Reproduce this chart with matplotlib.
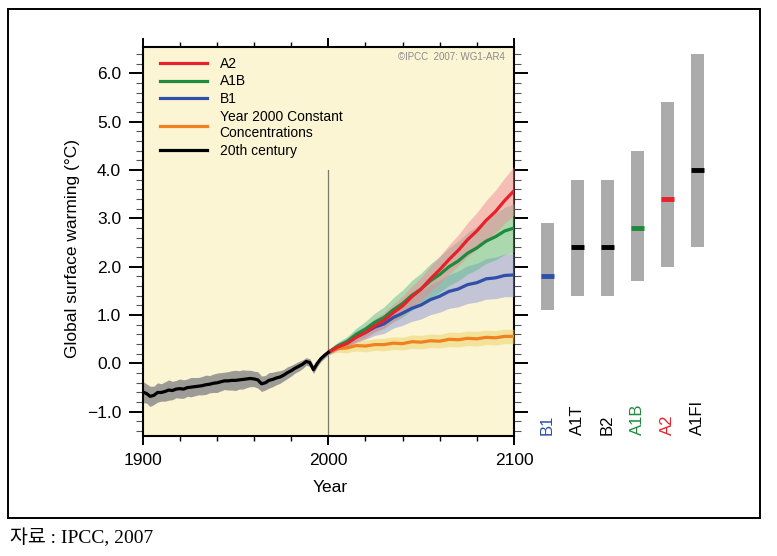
import matplotlib
matplotlib.use("Agg")
import matplotlib.pyplot as plt
from matplotlib.patches import Rectangle
from matplotlib.lines import Line2D
import numpy as np

plt.rcParams['font.family'] = ['Liberation Sans', 'DejaVu Sans']

# ---------------- data ----------------
years_hist = list(range(1900, 2001, 2))
hist_mean = [-0.59, -0.62, -0.68, -0.66, -0.60, -0.60, -0.58, -0.55, -0.56, -0.53,
             -0.52, -0.53, -0.50, -0.49, -0.48, -0.47, -0.46, -0.44, -0.43, -0.41,
             -0.40, -0.38, -0.36, -0.36, -0.35, -0.35, -0.34, -0.33, -0.32, -0.31,
             -0.32, -0.34, -0.42, -0.40, -0.35, -0.33, -0.30, -0.28, -0.24, -0.19,
             -0.15, -0.10, -0.06, -0.02, 0.04, 0.02, -0.13, 0.00, 0.10, 0.17, 0.23]
hist_spread = [0.22, 0.20, 0.21, 0.19, 0.20, 0.18, 0.20, 0.21, 0.19, 0.18,
               0.20, 0.19, 0.18, 0.20, 0.19, 0.18, 0.19, 0.20, 0.18, 0.19,
               0.20, 0.19, 0.18, 0.19, 0.20, 0.21, 0.19, 0.20, 0.18, 0.17,
               0.16, 0.17, 0.16, 0.15, 0.16, 0.15, 0.14, 0.13, 0.12, 0.12,
               0.11, 0.10, 0.10, 0.09, 0.08, 0.08, 0.08, 0.07, 0.06, 0.06, 0.05]

years_proj = list(range(2000, 2101, 5))
a2_mean = [0.23, 0.34, 0.41, 0.54, 0.64, 0.78, 0.89, 1.05, 1.19, 1.38, 1.54,
           1.75, 1.94, 2.15, 2.34, 2.56, 2.74, 2.96, 3.14, 3.37, 3.57]
a2_spread = [0.05, 0.07, 0.09, 0.10, 0.12, 0.14, 0.16, 0.18, 0.20, 0.22, 0.24,
             0.26, 0.28, 0.30, 0.32, 0.35, 0.38, 0.41, 0.44, 0.47, 0.50]
a1b_mean = [0.23, 0.36, 0.45, 0.60, 0.71, 0.85, 0.95, 1.11, 1.24, 1.41, 1.54,
            1.71, 1.84, 2.00, 2.12, 2.28, 2.39, 2.53, 2.62, 2.74, 2.80]
a1b_spread = [0.05, 0.08, 0.10, 0.13, 0.16, 0.19, 0.22, 0.25, 0.28, 0.31, 0.33,
              0.35, 0.37, 0.39, 0.41, 0.43, 0.45, 0.46, 0.48, 0.49, 0.50]
b1_mean = [0.23, 0.35, 0.44, 0.56, 0.64, 0.75, 0.82, 0.95, 1.04, 1.14, 1.21,
           1.32, 1.39, 1.49, 1.54, 1.63, 1.67, 1.75, 1.77, 1.82, 1.83]
b1_spread = [0.05, 0.07, 0.09, 0.12, 0.14, 0.17, 0.20, 0.22, 0.25, 0.27, 0.29,
             0.31, 0.33, 0.35, 0.37, 0.39, 0.40, 0.42, 0.43, 0.44, 0.45]
const_mean = [0.23, 0.31, 0.32, 0.37, 0.36, 0.39, 0.39, 0.42, 0.41, 0.45, 0.44,
              0.47, 0.46, 0.50, 0.49, 0.52, 0.51, 0.54, 0.53, 0.56, 0.56]
const_spread = [0.05, 0.08, 0.10, 0.11, 0.12, 0.12, 0.13, 0.13, 0.13, 0.14, 0.14,
                0.14, 0.14, 0.15, 0.15, 0.15, 0.15, 0.15, 0.15, 0.15, 0.15]

scen_labels = ['B1', 'A1T', 'B2', 'A1B', 'A2', 'A1FI']
scen_low = [1.1, 1.4, 1.4, 1.7, 2.0, 2.4]
scen_high = [2.9, 3.8, 3.8, 4.4, 5.4, 6.4]
scen_best = [1.8, 2.4, 2.4, 2.8, 3.4, 4.0]
scen_colors = ['#2f4fa8', '#000000', '#000000', '#1e8a3c', '#e8202a', '#000000']

yticks = [-1.0, 0.0, 1.0, 2.0, 3.0, 4.0, 5.0, 6.0]
xticks = [1900, 2000, 2100]

# ---------------- figure ----------------
W, H = 777, 556
fig = plt.figure(figsize=(W / 100, H / 100), dpi=100)

def fx(px):
    return px / W

def fy(py):
    return 1 - py / H

# outer frame
fig.patches.append(Rectangle((fx(8), fy(518)), fx(760) - fx(8), fy(9) - fy(518),
                             transform=fig.transFigure, fill=False, lw=1.4,
                             edgecolor='black'))

L, R, T, B = 142.7, 514.0, 46.7, 436.0
ax = fig.add_axes([fx(L), fy(B), fx(R) - fx(L), fy(T) - fy(B)])
ax.set_facecolor('#fcf5d4')
ymin, ymax = -1.5, 6.55
ax.set_xlim(1900, 2100)
ax.set_ylim(ymin, ymax)

RED, GREEN, BLUE, ORANGE = '#e8202a', '#1e8a3c', '#2f4fa8', '#f08020'

yh = np.array(years_hist)
hm = np.array(hist_mean)
hs = np.array(hist_spread)
ax.fill_between(yh, hm - hs, hm + hs, color='#8c8c8c', lw=0, alpha=0.85, zorder=2)

yp = np.array(years_proj)
bands = [
    (const_mean, const_spread, '#ecd060', ORANGE, 'Year 2000 Constant\nConcentrations'),
    (b1_mean, b1_spread, '#8c94d8', BLUE, 'B1'),
    (a1b_mean, a1b_spread, '#5cbc8c', GREEN, 'A1B'),
    (a2_mean, a2_spread, '#f08898', RED, 'A2'),
]
for m, s, bc, lc, lab in bands:
    m = np.array(m); s = np.array(s)
    ax.fill_between(yp, m - s, m + s, color=bc, lw=0, alpha=0.5, zorder=3)
for m, s, bc, lc, lab in bands:
    ax.plot(yp, m, color=lc, lw=2.3, zorder=5, solid_capstyle='butt')

ax.plot(yh, hm, color='black', lw=2.3, zorder=6)

# vertical line at 2000
ax.plot([2000, 2000], [ymin, 4.0], color='#7a7a6a', lw=0.9, zorder=1)

# ticks
ax.set_xticks(xticks)
ax.set_xticklabels([str(x) for x in xticks])
ax.set_xticks(list(range(1900, 2101, 20)), minor=True)
ax.set_yticks(yticks)
ax.set_yticklabels(['\u22121.0' if v < 0 else f'{v:.1f}' for v in yticks])
ax.set_yticks([v / 10 for v in range(-14, 66, 2)], minor=True)
ax.tick_params(axis='x', which='major', direction='out', length=6.5, width=1.4,
               top=True, labeltop=False, labelsize=12.5, pad=6)
ax.tick_params(axis='x', which='minor', direction='out', length=3.5, width=1.0, top=True)
ax.tick_params(axis='y', which='major', direction='out', length=10, width=1.4,
               right=True, labelright=False, labelsize=12.5, pad=5.5)
ax.tick_params(axis='y', which='minor', direction='out', length=5, width=0.8,
               right=True, color='#555555')
for sp in ax.spines.values():
    sp.set_linewidth(1.5)

fig.text(fx(330), fy(487), 'Year', ha='center', va='center', fontsize=12.5)
fig.text(fx(72), fy(248), 'Global surface warming (\u00b0C)', ha='center', va='center',
         rotation=90, fontsize=12.5)

# legend
handles = [Line2D([], [], color=RED, lw=2.3),
           Line2D([], [], color=GREEN, lw=2.3),
           Line2D([], [], color=BLUE, lw=2.3),
           Line2D([], [], color=ORANGE, lw=2.3),
           Line2D([], [], color='black', lw=2.3)]
labels = ['A2', 'A1B', 'B1', 'Year 2000 Constant\nConcentrations', '20th century']
leg = ax.legend(handles, labels, loc='upper left', frameon=False, fontsize=10,
                bbox_to_anchor=((161.7 - L) / (R - L) - 0.005, 1 - 10.0 / (B - T)),
                borderaxespad=0, borderpad=0, handlelength=3.4, handletextpad=0.9,
                labelspacing=0.27)

ax.text(0.976, 0.973, '\u00a9IPCC  2007: WG1-AR4', transform=ax.transAxes,
        ha='right', va='center', fontsize=7, color='#8a8a8a')

# scenario bars
ax2 = fig.add_axes([fx(521.7), fy(B), fx(722.7) - fx(521.7), fy(T) - fy(B)])
ax2.set_xlim(-0.85, 5.85)
ax2.set_ylim(ymin, ymax)
ax2.axis('off')
xs = np.arange(len(scen_labels))
bw = 0.42
ax2.bar(xs, np.array(scen_high) - np.array(scen_low), bottom=scen_low, width=bw,
        color='#ababab', lw=0)
for i in range(len(xs)):
    ax2.hlines(scen_best[i], xs[i] - bw / 2, xs[i] + bw / 2, color=scen_colors[i], lw=3.5)
    ax2.text(xs[i], ymin + 0.02, scen_labels[i], rotation=90, ha='center', va='bottom',
             fontsize=12, color=scen_colors[i])

fig.text(fx(10), fy(538), '자료 : IPCC, 2007', ha='left', va='center', fontsize=14,
         family=['Liberation Serif', 'Noto Sans CJK KR'])

fig.savefig('out.png', dpi=100)
